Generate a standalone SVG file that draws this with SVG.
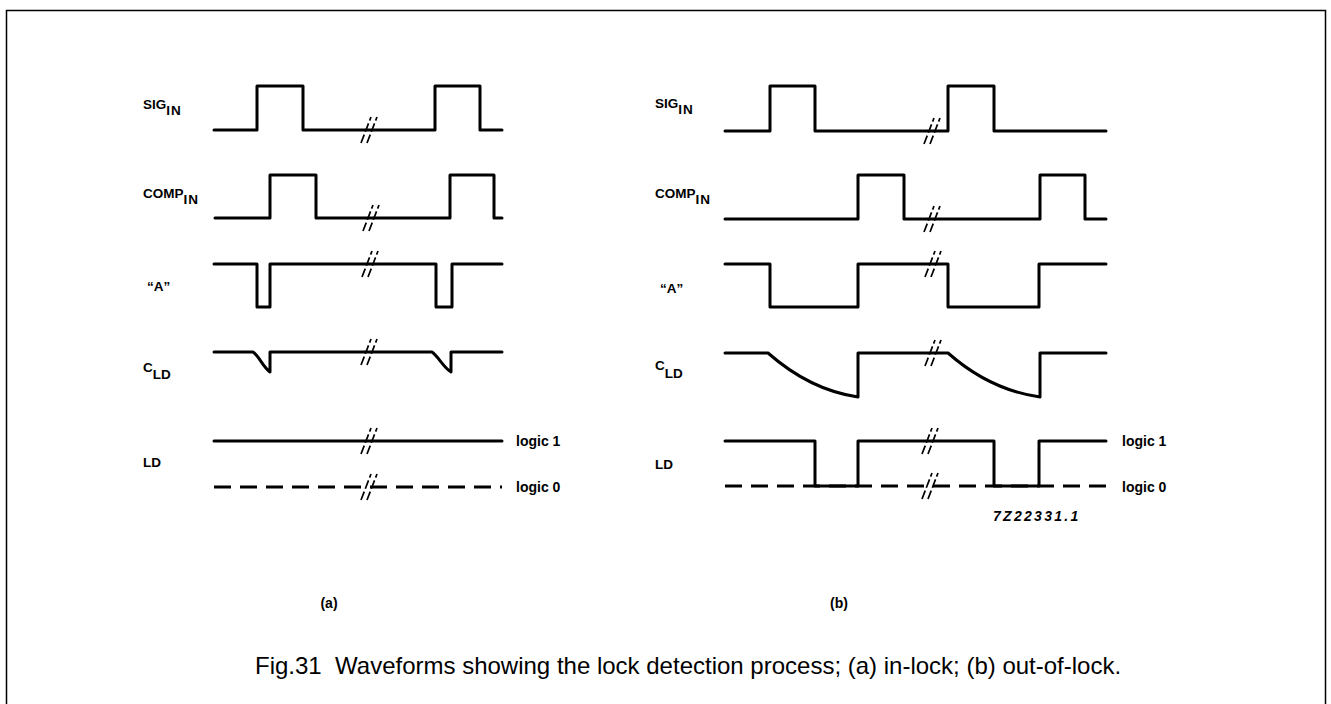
<svg xmlns="http://www.w3.org/2000/svg" xmlns:xlink="http://www.w3.org/1999/xlink" width="1331" height="704" viewBox="0 0 1331 704">
<style>
.wf{fill:none;stroke:#000;stroke-width:3;stroke-linejoin:round;stroke-linecap:round}
.dash{fill:none;stroke:#000;stroke-width:3;stroke-dasharray:17 9}
.brk{fill:none;stroke:#000;stroke-width:1.7;stroke-dasharray:9 3}
.lbl{font-family:"Liberation Sans",Arial,sans-serif;font-weight:bold;font-size:13.5px;fill:#000}
.lg{font-family:"Liberation Sans",Arial,sans-serif;font-weight:bold;font-size:14px;fill:#000}
.cap{font-family:"Liberation Sans",Arial,sans-serif;font-size:24px;fill:#000;white-space:pre}
</style>
<defs>
<g id="brkmark">
<line class="brk" x1="-9" y1="13" x2="1" y2="-13"/>
<line class="brk" x1="-3" y1="13" x2="7" y2="-13"/>
</g>
</defs>
<rect x="6.5" y="10.5" width="1319" height="720" fill="#fff" stroke="#000" stroke-width="1.5"/>

<g id="panel-a">
<g id="a-sig">
<text class="lbl" x="143" y="109">SIG<tspan dy="6" letter-spacing="1">IN</tspan></text>
<path class="wf" d="M214,130 H257 V86 H303 V130 H435 V86 H480 V130 H502"/>
</g>
<g id="a-comp">
<text class="lbl" x="143" y="198">COMP<tspan dy="6" letter-spacing="1">IN</tspan></text>
<path class="wf" d="M215,218 H270 V175 H316 V218 H450 V175 H494 V218 H502"/>
</g>
<g id="a-A">
<text class="lbl" x="147" y="291">“A”</text>
<path class="wf" d="M214,264 H257 V307 H270 V264 H436 V307 H452 V264 H502"/>
</g>
<g id="a-cld">
<text class="lbl" x="143" y="372">C<tspan dy="7">LD</tspan></text>
<path class="wf" d="M214,352 H253 C259,356 263,367 270,372 V352 H432 C438,356 443,367 451,372 V352 H502"/>
</g>
<g id="a-ld">
<text class="lbl" x="143" y="467">LD</text>
<path class="wf" d="M214,441 H502"/>
<path class="dash" d="M214,487 H502"/>
<text class="lg" x="516" y="446">logic 1</text>
<text class="lg" x="516" y="492">logic 0</text>
</g>
<text class="lg" x="329" y="608" text-anchor="middle">(a)</text>
</g>

<g id="panel-b">
<g id="b-sig">
<text class="lbl" x="655" y="108">SIG<tspan dy="6" letter-spacing="1">IN</tspan></text>
<path class="wf" d="M725,131 H770 V86 H815 V131 H948 V86 H994 V131 H1106"/>
</g>
<g id="b-comp">
<text class="lbl" x="655" y="198">COMP<tspan dy="6" letter-spacing="1">IN</tspan></text>
<path class="wf" d="M725,219 H858 V175 H904 V219 H1040 V175 H1085 V219 H1106"/>
</g>
<g id="b-A">
<text class="lbl" x="660" y="293">“A”</text>
<path class="wf" d="M725,264 H770 V307 H858 V264 H948 V307 H1039 V264 H1106"/>
</g>
<g id="b-cld">
<text class="lbl" x="655" y="370">C<tspan dy="8">LD</tspan></text>
<path class="wf" d="M725,353 H768 Q810,390 858,397 V353 H948 Q990,390 1040,397 V353 H1106"/>
</g>
<g id="b-ld">
<text class="lbl" x="655" y="469">LD</text>
<path class="dash" d="M725,486 H1106"/>
<path class="wf" d="M725,441 H815 V486 H858 V441 H994 V486 H1039 V441 H1106"/>
<text class="lg" x="1122" y="446">logic 1</text>
<text class="lg" x="1122" y="492">logic 0</text>
</g>
<text class="lg" x="993" y="521" style="font-style:italic;letter-spacing:2.3px">7Z22331.1</text>
<text class="lg" x="839" y="608" text-anchor="middle">(b)</text>
</g>

<g id="connectors">
<use xlink:href="#brkmark" x="370" y="130"/>
<use xlink:href="#brkmark" x="372" y="218"/>
<use xlink:href="#brkmark" x="371" y="264"/>
<use xlink:href="#brkmark" x="370" y="352"/>
<use xlink:href="#brkmark" x="370" y="441"/>
<use xlink:href="#brkmark" x="370" y="487"/>
<use xlink:href="#brkmark" x="933" y="131"/>
<use xlink:href="#brkmark" x="933" y="219"/>
<use xlink:href="#brkmark" x="934" y="264"/>
<use xlink:href="#brkmark" x="934" y="353"/>
<use xlink:href="#brkmark" x="931" y="441"/>
<use xlink:href="#brkmark" x="931" y="486"/>
</g>

<text class="cap" x="255" y="674" xml:space="preserve">Fig.31  Waveforms showing the lock detection process; (a) in-lock; (b) out-of-lock.</text>
</svg>
